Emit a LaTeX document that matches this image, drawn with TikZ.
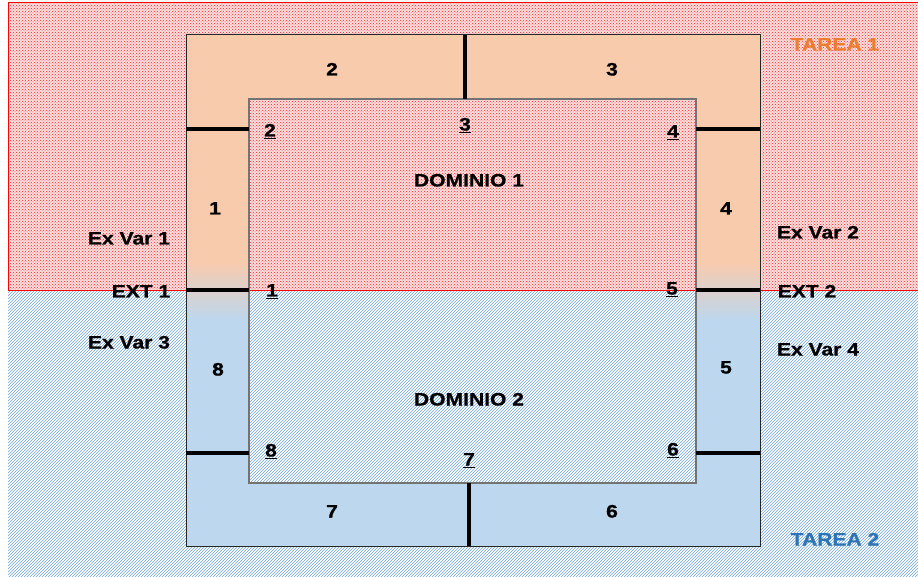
\documentclass[tikz,border=0pt]{standalone}
\usepackage{fontspec}
\newfontfamily\lab[FakeStretch=1.17,FakeBold=0.9]{Liberation Sans}
\usetikzlibrary{patterns}
\definecolor{peach}{RGB}{248,203,173}
\definecolor{lblue}{RGB}{189,215,238}
\definecolor{hatch}{RGB}{110,165,220}
\definecolor{torange}{RGB}{237,125,49}
\definecolor{tblue}{RGB}{46,117,182}
\tikzset{
  lbl/.style={font=\lab\bfseries\fontsize{18}{20}\selectfont, inner sep=0pt, text height=13pt, text depth=0pt},
  divider/.style={line width=3.5pt, black},
}
\begin{document}
\begin{tikzpicture}[x=1pt,y=-1pt]
\useasboundingbox (0,0) rectangle (918,577);
% background areas
\fill[white] (0,0) rectangle (918,577);
\fill[red!13] (8,3) rectangle (920,291);
\fill[pattern=crosshatch dots, pattern color=red!85] (8,3) rectangle (920,291);
\fill[white] (8,291) rectangle (920,580);
\fill[pattern=north east lines, pattern color=hatch] (8,291) rectangle (920,580);
\draw[red, line width=1pt] (920,291) -- (8,291) -- (8,3) -- (920,3);
% ring
\begin{scope}[even odd rule]
  \clip (186,35) rectangle (760,546) (249,99) rectangle (696,483);
  \fill[peach] (180,30) rectangle (770,262);
  \shade[top color=peach, bottom color=lblue] (180,262) rectangle (770,320);
  \fill[lblue] (180,320) rectangle (770,550);
\end{scope}
\draw[black!85, line width=1pt] (186,35) rectangle (760,546);
\draw[black!55, line width=1.2pt] (249,99) rectangle (696,483);
% dividers
\coordinate (t1) at (465,35); \coordinate (t2) at (465,99);
\coordinate (b1) at (469,483); \coordinate (b2) at (469,546);
\coordinate (l1a) at (186,129); \coordinate (l1b) at (249,129);
\coordinate (r1a) at (696,129); \coordinate (r1b) at (760,129);
\coordinate (l2a) at (186,290); \coordinate (l2b) at (249,290);
\coordinate (r2a) at (696,290); \coordinate (r2b) at (760,290);
\coordinate (l3a) at (186,453); \coordinate (l3b) at (249,453);
\coordinate (r3a) at (696,453); \coordinate (r3b) at (760,453);
\draw[divider] (t1) -- (t2);
\draw[divider] (b1) -- (b2);
\draw[divider] (l1a) -- (l1b);
\draw[divider] (r1a) -- (r1b);
\draw[divider] (l2a) -- (l2b);
\draw[divider] (r2a) -- (r2b);
\draw[divider] (l3a) -- (l3b);
\draw[divider] (r3a) -- (r3b);
% segment numbers
\node[lbl] (s2) at (332,69) {2};
\node[lbl] (s3) at (612,69) {3};
\node[lbl] (s1) at (215,208) {1};
\node[lbl] (s4) at (726,208) {4};
\node[lbl] (s8) at (218,369) {8};
\node[lbl] (s5) at (726,367) {5};
\node[lbl] (s7) at (332,511) {7};
\node[lbl] (s6) at (612,511) {6};
% underlined corner numbers
\node[lbl] (c2) at (270,130) {\underline{2}};
\node[lbl] (c3) at (465,124) {\underline{3}};
\node[lbl] (c4) at (673,131) {\underline{4}};
\node[lbl] (c1) at (272,290) {\underline{1}};
\node[lbl] (c5) at (672,288) {\underline{5}};
\node[lbl] (c8) at (271,450) {\underline{8}};
\node[lbl] (c7) at (469,459) {\underline{7}};
\node[lbl] (c6) at (673,449) {\underline{6}};
% domains
\node[lbl] (d1) at (469,180) {DOMINIO 1};
\node[lbl] (d2) at (469,399) {DOMINIO 2};
% side labels
\node[lbl] (ev1) at (129,238) {Ex Var 1};
\node[lbl] (ext1) at (141,291) {EXT 1};
\node[lbl] (ev3) at (129,342) {Ex Var 3};
\node[lbl] (ev2) at (818,232) {Ex Var 2};
\node[lbl] (ext2) at (807,291) {EXT 2};
\node[lbl] (ev4) at (818,349) {Ex Var 4};
\node[lbl, text=torange] (ta1) at (835,44) {TAREA 1};
\node[lbl, text=tblue] (ta2) at (835,539) {TAREA 2};
\end{tikzpicture}
\end{document}
